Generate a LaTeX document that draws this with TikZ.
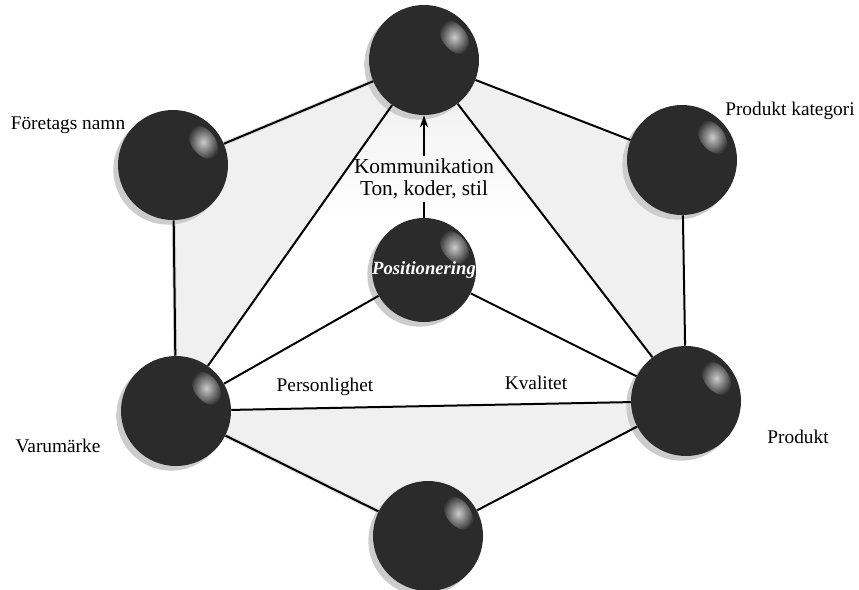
\documentclass[tikz,border=0pt]{standalone}
\usepackage{fontspec}
\setmainfont{Liberation Serif}
\usetikzlibrary{arrows.meta,shadows}
\pgfdeclarelayer{background}
\pgfsetlayers{background,main}
\pgfdeclareverticalshading{triangshade}{100bp}{color(0bp)=(white); color(52bp)=(white); color(72bp)=(gray!12); color(100bp)=(gray!12)}
\colorlet{spherecol}{black!83}
\tikzset{
  ball/.style={circle, fill=spherecol, minimum size=82.5pt, inner sep=0pt,
    drop shadow={shadow xshift=-3.5pt, shadow yshift=-3.5pt, fill=gray!40, opacity=1}},
  smallball/.style={ball, minimum size=78pt},
  glare/.style={inner color=gray!40, outer color=spherecol},
  edge/.style={line width=1.5pt, black},
  edgeshadow/.style={line width=3pt, gray!30, xshift=-2.5pt, yshift=-2.5pt},
  lbl/.style={font=\fontsize{14.5}{16}\selectfont, inner sep=1pt},
  kom/.style={font=\fontsize{16}{16.5}\selectfont, align=center, inner sep=2pt},
  postext/.style={font=\fontsize{14}{16}\selectfont\bfseries\itshape, text=white}
}
\begin{document}
\begin{tikzpicture}[x=0.75pt, y=-0.75pt]
\useasboundingbox (0,0) rectangle (859,589);
% spheres
\node[ball] (top) at (424,60) {};
\node[ball] (fn)  at (173,165) {};
\node[ball] (pk)  at (682,160) {};
\node[ball] (vm)  at (176,411) {};
\node[ball] (pr)  at (686,401) {};
\node[ball] (bot) at (428,536) {};
\node[smallball] (pos) at (424,270) {};
% glare highlights
\foreach \n in {top,fn,pk,vm,pr,bot,pos}
  \shade[glare, shift={(\n.center)}, rotate=37] (38,0) ellipse [x radius=9pt, y radius=14pt];
\node[postext] (posl) at (pos.center) {Positionering};
% labels
\node[lbl] (fnl) at (68,125) {Företags namn};
\node[lbl] (pkl) at (790,111) {Produkt kategori};
\node[lbl] (vml) at (58,446) {Varumärke};
\node[lbl] (prl) at (798,437) {Produkt};
\node[lbl] (pers) at (325,387) {Personlighet};
\node[lbl] (kval) at (536,383) {Kvalitet};
\node[kom] (kom) at (424,179) {Kommunikation\\Ton, koder, stil};
% background fill
\begin{pgfonlayer}{background}
  \fill[gray!12] (top.center) -- (pk.center) -- (pr.center) -- (bot.center) -- (vm.center) -- (fn.center) -- cycle;
  \shade[shading=triangshade] (top.center) -- (pr.center) -- (vm.center) -- cycle;
  \draw[edgeshadow] (fn) -- (vm);
  \draw[edgeshadow] (vm) -- (bot);
  \draw[edgeshadow] (fn) -- (top);
\end{pgfonlayer}
% hexagon edges
\draw[edge] (fn) -- (top);
\draw[edge] (top) -- (pk);
\draw[edge] (pk) -- (pr);
\draw[edge] (pr) -- (bot);
\draw[edge] (bot) -- (vm);
\draw[edge] (vm) -- (fn);
% inner edges
\draw[edge] (vm) -- (top);
\draw[edge] (pr) -- (top);
\draw[edge] (vm) -- (pr);
\draw[edge] (vm) -- (pos);
\draw[edge] (pos) -- (pr);
% communication arrow
\draw[edge] (pos) -- (kom);
\draw[edge, -{Stealth[length=9pt,width=6pt]}] (kom) -- (top);
\end{tikzpicture}
\end{document}
